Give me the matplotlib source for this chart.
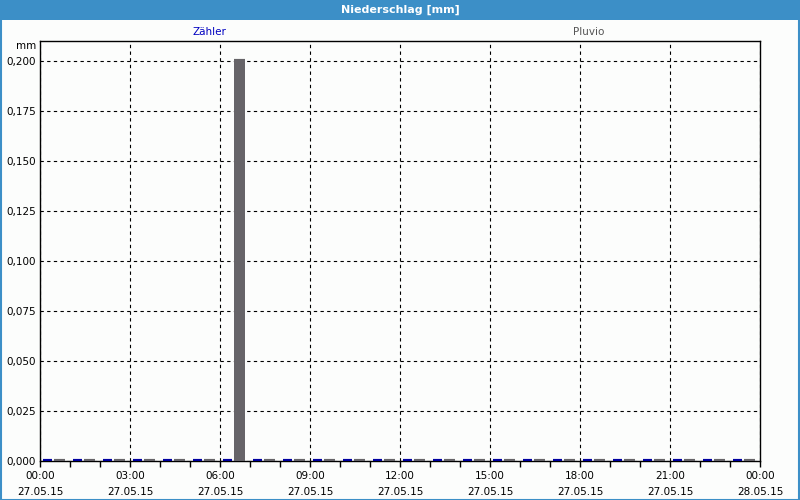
import matplotlib
matplotlib.use("Agg")
import matplotlib.pyplot as plt
from matplotlib.patches import Rectangle
from matplotlib.ticker import MultipleLocator

hours = list(range(24))
zaehler = [0, 0, 0, 0, 0, 0, 0, 0, 0, 0, 0, 0, 0, 0, 0, 0, 0, 0, 0, 0, 0, 0, 0, 0]
pluvio = [0, 0, 0, 0, 0, 0, 0.2, 0, 0, 0, 0, 0, 0, 0, 0, 0, 0, 0, 0, 0, 0, 0, 0, 0]
x_ticks = [0, 3, 6, 9, 12, 15, 18, 21, 24]
x_labels = ["00:00\n27.05.15", "03:00\n27.05.15", "06:00\n27.05.15", "09:00\n27.05.15",
            "12:00\n27.05.15", "15:00\n27.05.15", "18:00\n27.05.15", "21:00\n27.05.15",
            "00:00\n28.05.15"]
y_ticks = [0, 0.025, 0.05, 0.075, 0.1, 0.125, 0.15, 0.175, 0.2]
y_labels = ["0,000", "0,025", "0,050", "0,075", "0,100", "0,125", "0,150", "0,175", "0,200"]

plt.rcParams['font.family'] = ['DejaVu Sans']
BG = "#fcfdfc"
BLUE_FRAME = "#3c8fc7"
fig = plt.figure(figsize=(8, 5), dpi=100, facecolor=BG)

# title bar and frame
fig.patches.append(Rectangle((0, 1 - 20/500), 1, 20/500, transform=fig.transFigure,
                             facecolor=BLUE_FRAME, edgecolor='none', zorder=0))
fig.patches.append(Rectangle((0.5/800, 0.5/500), 1 - 1.5/800, 1 - 1.5/500, transform=fig.transFigure,
                             facecolor='none', edgecolor=BLUE_FRAME, linewidth=1.5, zorder=1))
fig.text(0.5, 1 - 10/500, "Niederschlag [mm]", color="white", fontsize=8, fontweight="bold",
         ha="center", va="center")

ax = fig.add_axes([40/800, 39/500, 720/800, 420/500])
ax.set_facecolor(BG)
ax.set_xlim(0, 24)
ax.set_ylim(0, 0.21)

ZCOL = "#0000a0"
PCOL = "#666468"
zw, pw = 0.3, 0.37
zx = [h + 0.25 for h in hours]
px = [h + 0.65 for h in hours]
ax.bar(zx, zaehler, width=zw, color=ZCOL, linewidth=0, zorder=3)
ax.bar(px, pluvio, width=pw, color=PCOL, linewidth=0, zorder=3)
# bar caps (make zero-valued bars visible as thin strokes, like the original)
ax.hlines(zaehler, [x - zw/2 for x in zx], [x + zw/2 for x in zx], colors=ZCOL,
          linewidth=3, zorder=3.5)
ax.hlines(pluvio, [x - pw/2 for x in px], [x + pw/2 for x in px], colors=PCOL,
          linewidth=3, zorder=3.4)

ax.set_xticks(x_ticks)
ax.set_xticklabels(x_labels, fontsize=7.5, linespacing=1.75)
ax.xaxis.set_minor_locator(MultipleLocator(1))
ax.set_yticks(y_ticks)
ax.set_yticklabels(y_labels, fontsize=7.5)
ax.tick_params(axis='x', which='major', length=4, width=1, direction='out', pad=3)
ax.tick_params(axis='x', which='minor', length=4, width=1, direction='out')
ax.tick_params(axis='y', length=0, pad=3)

ax.grid(True, which='major', color='black', linestyle=(0, (3, 3)), linewidth=0.8, zorder=1)
ax.set_axisbelow(True)
for s in ax.spines.values():
    s.set_color('black')
    s.set_linewidth(1)

fig.text(36/800, 1 - 46/500, "mm", fontsize=7.5, ha="right", va="center")
fig.text(209/800, 1 - 32/500, "Zähler", fontsize=7.5, ha="center", va="center", color="#0000c0")
fig.text(589/800, 1 - 32/500, "Pluvio", fontsize=7.5, ha="center", va="center", color="#555555")

fig.savefig("out.png", dpi=100, facecolor=BG)
